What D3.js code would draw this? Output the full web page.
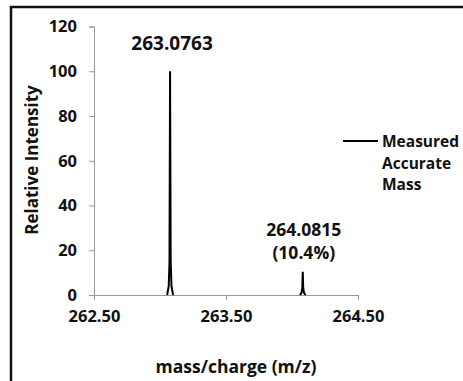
<!DOCTYPE html>
<html><head><meta charset="utf-8">
<script src="https://cdn.jsdelivr.net/npm/d3@7"></script>
<style>body{margin:0;background:#fff}svg{display:block}text{font-family:"Open Sans",sans-serif;font-weight:bold;fill:#111}</style>
</head><body><svg id="c" width="463" height="381"></svg>
<script>
// data
const peak1MZ = [263.054, 263.066, 263.072, 263.0763, 263.081, 263.087, 263.099];
const peak1Int = [0, 4, 15, 100, 15, 4, 0];
const peak2MZ = [264.060, 264.072, 264.078, 264.0815, 264.085, 264.091, 264.103];
const peak2Int = [0, 1, 3, 10.4, 3, 1, 0];
const peakLabels = [["263.0763"], ["264.0815", "(10.4%)"]];
const peakLabelMZ = [263.0763, 264.0815];
const xTicks = [262.5, 263.5, 264.5];
const yTicks = [0, 20, 40, 60, 80, 100, 120];
const seriesName = ["Measured", "Accurate", "Mass"];

const svg = d3.select("#c");
// frame
svg.append("rect").attr("x",11).attr("y",7).attr("width",470).attr("height",400)
  .attr("fill","none").attr("stroke","#111").attr("stroke-width",2.5);

const x = d3.scaleLinear().domain([262.5, 264.5]).range([94, 358]);
const y = d3.scaleLinear().domain([0, 120]).range([295, 26.5]);

const gx = svg.append("g").attr("transform","translate(0,295)")
  .call(d3.axisBottom(x).tickValues(xTicks).tickFormat(d3.format(".2f")).tickSizeOuter(0).tickSize(5));
const gy = svg.append("g").attr("transform","translate(94,0)")
  .call(d3.axisLeft(y).tickValues(yTicks).tickSizeOuter(0).tickSize(5));
[gx, gy].forEach(g=>{
  g.select(".domain").attr("stroke","#999");
  g.selectAll(".tick line").attr("stroke","#999");
  g.selectAll(".tick text").attr("font-size","16.5px").attr("fill","#111")
   .style("font-family","'Open Sans',sans-serif").style("font-weight","bold");
});
gx.selectAll(".tick text").attr("y",27).attr("dy","0");
gy.selectAll(".tick text").attr("x",-17);

const line = d3.line().x(d=>x(d[0])).y(d=>y(d[1]));
[[peak1MZ, peak1Int],[peak2MZ, peak2Int]].forEach(([m, v])=>{
  svg.append("path").datum(m.map((d,i)=>[d, v[i]])).attr("d", line)
    .attr("fill","none").attr("stroke","#000").attr("stroke-width",2).attr("stroke-linejoin","miter");
});

// peak labels
svg.append("text").attr("x", x(peakLabelMZ[0])+2).attr("y", 50).attr("text-anchor","middle")
  .attr("font-size","19px").text(peakLabels[0][0]);
peakLabels[1].forEach((t,i)=>{
  svg.append("text").attr("x", x(peakLabelMZ[1])+1).attr("y", 236 + i*22.5).attr("text-anchor","middle")
    .attr("font-size","17.5px").text(t);
});

// legend
svg.append("line").attr("x1",343).attr("x2",378).attr("y1",141).attr("y2",141).attr("stroke","#000").attr("stroke-width",2);
seriesName.forEach((t,i)=>{
  svg.append("text").attr("x",382).attr("y",147 + i*21.5).attr("font-size","15.5px").text(t);
});

// axis titles
svg.append("text").attr("x",236).attr("y",373).attr("text-anchor","middle").attr("font-size","17.5px").text("mass/charge (m/z)");
svg.append("text").attr("transform","translate(38,160) rotate(-90)").attr("text-anchor","middle")
  .attr("font-size","17px").text("Relative Intensity");
</script></body></html>
